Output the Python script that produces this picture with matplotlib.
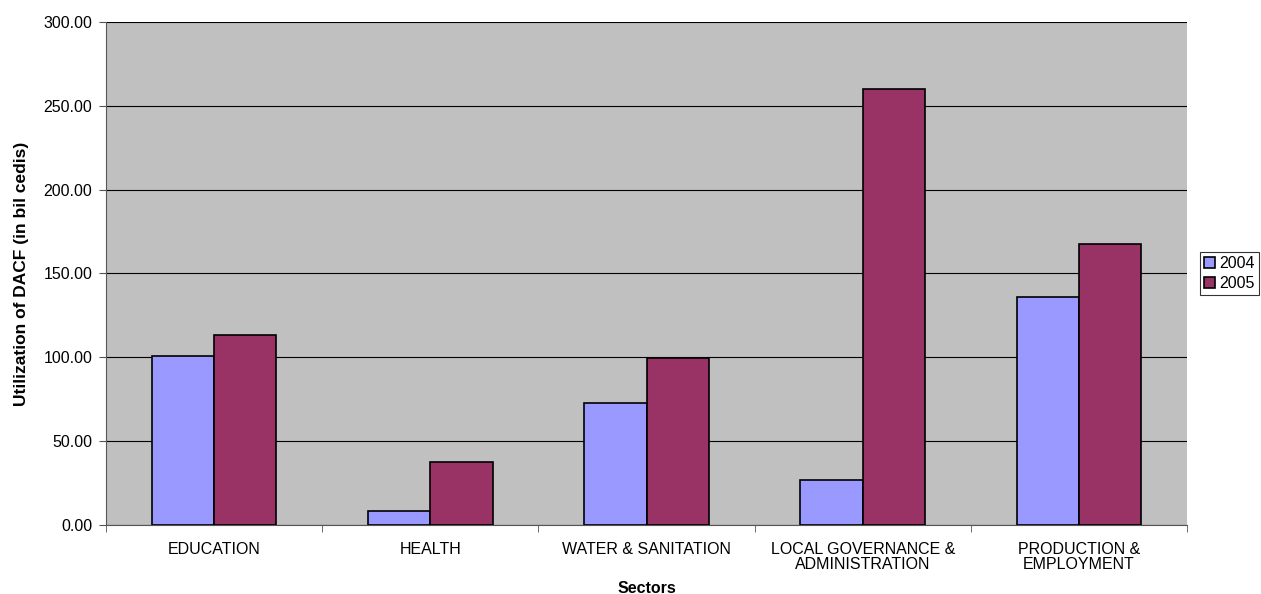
import numpy as np
import matplotlib.pyplot as plt

plt.rcParams['font.family'] = ['Liberation Sans', 'DejaVu Sans']

# Data
sectors = ['EDUCATION', 'HEALTH', 'WATER & SANITATION',
           'LOCAL GOVERNANCE &\nADMINISTRATION', 'PRODUCTION &\nEMPLOYMENT']
years = ['2004', '2005']
vals_2004 = [100.5, 8.5, 72.6, 27.0, 135.8]
vals_2005 = [113.1, 37.4, 99.8, 260.0, 167.6]

fig = plt.figure(figsize=(12.61, 5.94), dpi=100)
ax = fig.add_axes([0.0841, 0.1162, 0.8572, 0.8468])
ax.set_facecolor('#C0C0C0')

x = np.arange(len(sectors))
w = 0.288
ax.bar(x - w / 2, vals_2004, w, color='#9999FF', edgecolor='black', linewidth=1.2, label=years[0], zorder=3)
ax.bar(x + w / 2, vals_2005, w, color='#993366', edgecolor='black', linewidth=1.2, label=years[1], zorder=3)

ax.set_xlim(-0.5, len(sectors) - 0.5)
ax.set_ylim(0, 300)
ax.set_yticks(np.arange(0, 301, 50))
ax.set_yticklabels([f'{v:.2f}' for v in np.arange(0, 301, 50)], fontsize=11.5)
ax.grid(axis='y', color='black', linewidth=0.8, zorder=1)

ax.set_xticks(x)
ax.set_xticklabels(sectors, fontsize=11.5, linespacing=1.05)
ax.set_xticks(np.arange(-0.5, len(sectors), 1), minor=True)
ax.tick_params(axis='x', which='major', length=0, pad=12)
ax.tick_params(axis='x', which='minor', length=5, color='#555555')
ax.tick_params(axis='y', length=5, color='#555555', pad=5)

for side in ['top', 'right']:
    ax.spines[side].set_visible(False)
ax.spines['left'].set_color('#555555')
ax.spines['bottom'].set_color('#555555')

ax.set_xlabel('Sectors', fontsize=11.5, fontweight='bold', labelpad=6)
ax.set_ylabel('Utilization of DACF (in bil cedis)', fontsize=12.5, fontweight='bold', labelpad=10)

leg = fig.legend(loc='center left', bbox_to_anchor=(0.949, 0.539), fontsize=11.5,
                 frameon=True, fancybox=False, edgecolor='black', borderpad=0.25,
                 handlelength=0.7, handleheight=0.7, handletextpad=0.25, labelspacing=0.3,
                 borderaxespad=0.2)
leg.get_frame().set_linewidth(0.8)

fig.savefig('out.png', dpi=100)
